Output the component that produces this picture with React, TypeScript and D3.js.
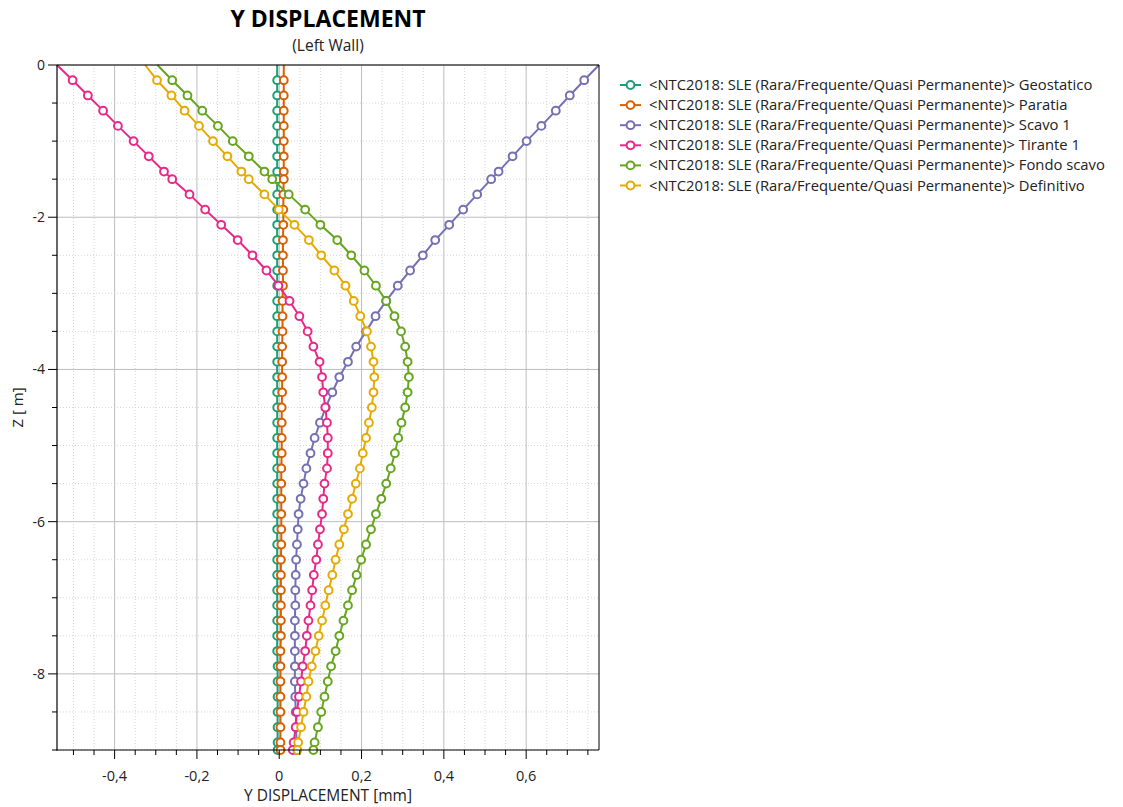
import React from 'react';
import * as d3 from 'd3';

// Depth nodes [m]
const Z = [0, -0.2, -0.4, -0.6, -0.8, -1.0, -1.2, -1.4, -1.5, -1.7, -1.9, -2.1, -2.3, -2.5, -2.7, -2.9, -3.1, -3.3, -3.5, -3.7, -3.9, -4.1, -4.3, -4.5, -4.7, -4.9, -5.1, -5.3, -5.5, -5.7, -5.9, -6.1, -6.3, -6.5, -6.7, -6.9, -7.1, -7.3, -7.5, -7.7, -7.9, -8.1, -8.3, -8.5, -8.7, -8.9, -9.0];

const geostatico = [-0.005, -0.005, -0.005, -0.005, -0.005, -0.005, -0.005, -0.005, -0.005, -0.005, -0.005, -0.005, -0.005, -0.005, -0.005, -0.005, -0.005, -0.005, -0.005, -0.005, -0.005, -0.005, -0.005, -0.005, -0.005, -0.005, -0.005, -0.005, -0.005, -0.005, -0.005, -0.005, -0.005, -0.005, -0.005, -0.005, -0.005, -0.005, -0.005, -0.005, -0.004, -0.004, -0.004, -0.004, -0.004, -0.004, -0.004];
const paratia = [0.011, 0.011, 0.011, 0.011, 0.011, 0.011, 0.011, 0.011, 0.011, 0.010, 0.010, 0.010, 0.009, 0.009, 0.009, 0.009, 0.008, 0.008, 0.008, 0.007, 0.007, 0.007, 0.007, 0.006, 0.006, 0.006, 0.006, 0.005, 0.005, 0.005, 0.005, 0.005, 0.005, 0.004, 0.004, 0.004, 0.004, 0.004, 0.004, 0.003, 0.003, 0.003, 0.003, 0.003, 0.003, 0.003, 0.003];
const scavo1 = [0.777, 0.741, 0.706, 0.672, 0.637, 0.601, 0.567, 0.533, 0.515, 0.481, 0.447, 0.413, 0.379, 0.349, 0.318, 0.288, 0.260, 0.234, 0.211, 0.187, 0.167, 0.146, 0.129, 0.113, 0.099, 0.086, 0.076, 0.066, 0.059, 0.052, 0.047, 0.045, 0.043, 0.041, 0.040, 0.039, 0.039, 0.038, 0.038, 0.038, 0.038, 0.038, 0.039, 0.040, 0.041, 0.042, 0.043];
const tirante1 = [-0.540, -0.502, -0.465, -0.428, -0.392, -0.354, -0.317, -0.280, -0.260, -0.218, -0.180, -0.141, -0.101, -0.065, -0.031, -0.002, 0.025, 0.049, 0.069, 0.083, 0.098, 0.104, 0.107, 0.112, 0.116, 0.118, 0.118, 0.116, 0.110, 0.107, 0.104, 0.099, 0.094, 0.090, 0.084, 0.080, 0.076, 0.071, 0.067, 0.063, 0.057, 0.053, 0.048, 0.043, 0.040, 0.035, 0.033];
const fondoScavo = [-0.296, -0.260, -0.223, -0.187, -0.149, -0.113, -0.074, -0.036, -0.017, 0.023, 0.063, 0.100, 0.141, 0.175, 0.207, 0.235, 0.260, 0.280, 0.296, 0.306, 0.312, 0.315, 0.312, 0.306, 0.297, 0.289, 0.281, 0.271, 0.260, 0.248, 0.235, 0.223, 0.211, 0.199, 0.188, 0.177, 0.167, 0.156, 0.146, 0.137, 0.126, 0.118, 0.110, 0.102, 0.094, 0.086, 0.083];
const definitivo = [-0.326, -0.297, -0.262, -0.230, -0.195, -0.161, -0.126, -0.092, -0.074, -0.036, -0.001, 0.037, 0.072, 0.102, 0.134, 0.161, 0.181, 0.197, 0.213, 0.223, 0.229, 0.231, 0.229, 0.225, 0.218, 0.211, 0.203, 0.196, 0.186, 0.177, 0.167, 0.157, 0.146, 0.137, 0.129, 0.120, 0.112, 0.104, 0.096, 0.088, 0.079, 0.071, 0.066, 0.059, 0.053, 0.046, 0.044];

const seriesNames = [
  '<NTC2018: SLE (Rara/Frequente/Quasi Permanente)> Geostatico',
  '<NTC2018: SLE (Rara/Frequente/Quasi Permanente)> Paratia',
  '<NTC2018: SLE (Rara/Frequente/Quasi Permanente)> Scavo 1',
  '<NTC2018: SLE (Rara/Frequente/Quasi Permanente)> Tirante 1',
  '<NTC2018: SLE (Rara/Frequente/Quasi Permanente)> Fondo scavo',
  '<NTC2018: SLE (Rara/Frequente/Quasi Permanente)> Definitivo',
];
const seriesValues = [geostatico, paratia, scavo1, tirante1, fondoScavo, definitivo];
const seriesColors = ['#1b9e77', '#d95f02', '#7570b3', '#e7298a', '#66a61e', '#e6ab02'];

const xMajorTicks = [-0.4, -0.2, 0, 0.2, 0.4, 0.6];
const xTickLabels = ['-0,4', '-0,2', '0', '0,2', '0,4', '0,6'];
const xMinorTicks = [-0.5, -0.45, -0.35, -0.3, -0.25, -0.15, -0.1, -0.05, 0.05, 0.1, 0.15, 0.25, 0.3, 0.35, 0.45, 0.5, 0.55, 0.65, 0.7, 0.75];
const yMajorTicks = [0, -2, -4, -6, -8];
const yTickLabels = ['0', '-2', '-4', '-6', '-8'];
const yMinorTicks = [-0.5, -1, -1.5, -2.5, -3, -3.5, -4.5, -5, -5.5, -6.5, -7, -7.5, -8.5, -9];

const FONT = '"Open Sans", "DejaVu Sans", sans-serif';

export default function App() {
  const W = 1123, H = 807;
  const L = 57, T = 65, R = 599, B = 750;
  const all = seriesValues.flat();
  const x = d3.scaleLinear().domain(d3.extent(all) as [number, number]).range([L, R]);
  const y = d3.scaleLinear().domain([0, -9]).range([T, B]);
  const line = d3.line<[number, number]>().x(d => x(d[0])).y(d => y(d[1]));

  return (
    <svg width={W} height={H} style={{ position: 'absolute', left: 0, top: 0, background: '#fff' }} fontFamily={FONT}>
      <rect x={0} y={0} width={W} height={H} fill="#fff" />
      {/* minor grid */}
      {xMinorTicks.map((t, i) => (
        <line key={'xm' + i} x1={x(t)} x2={x(t)} y1={T} y2={B} stroke="#d6d6d6" strokeDasharray="1,2" />
      ))}
      {yMinorTicks.map((t, i) => (
        <line key={'ym' + i} x1={L} x2={R} y1={y(t)} y2={y(t)} stroke="#d6d6d6" strokeDasharray="1,2" />
      ))}
      {/* major grid */}
      {xMajorTicks.map((t, i) => (
        <line key={'xM' + i} x1={x(t)} x2={x(t)} y1={T} y2={B} stroke="#bdbdbd" />
      ))}
      {yMajorTicks.map((t, i) => (
        <line key={'yM' + i} x1={L} x2={R} y1={y(t)} y2={y(t)} stroke="#bdbdbd" />
      ))}
      {/* series */}
      {seriesValues.map((vals, si) => {
        const pts = vals.map((v, i) => [v, Z[i]] as [number, number]);
        return (
          <g key={'s' + si}>
            <path d={line(pts) || ''} fill="none" stroke={seriesColors[si]} strokeWidth={2} />
            {pts.slice(1).map((p, i) => (
              <circle key={i} cx={x(p[0])} cy={y(p[1])} r={3.9} fill="#fff" stroke={seriesColors[si]} strokeWidth={2} />
            ))}
          </g>
        );
      })}
      {/* frame */}
      <line x1={L} x2={R} y1={T} y2={T} stroke="#000" />
      <line x1={R} x2={R} y1={T} y2={B} stroke="#000" />
      <line x1={L} x2={L} y1={T} y2={B + 0.5} stroke="#000" strokeWidth={1.2} />
      <line x1={L - 0.5} x2={R} y1={B} y2={B} stroke="#000" strokeWidth={1.2} />
      {/* x ticks */}
      {xMajorTicks.map((t, i) => (
        <g key={'xt' + i}>
          <line x1={x(t)} x2={x(t)} y1={B} y2={B + 9} stroke="#000" />
          <text x={x(t)} y={781} textAnchor="middle" fontSize={14.5} fill="#222">{xTickLabels[i]}</text>
        </g>
      ))}
      {xMinorTicks.map((t, i) => (
        <line key={'xmt' + i} x1={x(t)} x2={x(t)} y1={B} y2={B + 5} stroke="#000" />
      ))}
      {/* y ticks */}
      {yMajorTicks.map((t, i) => (
        <g key={'yt' + i}>
          <line x1={L - 9} x2={L} y1={y(t)} y2={y(t)} stroke="#000" />
          <text x={45} y={y(t) + 5} textAnchor="end" fontSize={14} fill="#222">{yTickLabels[i]}</text>
        </g>
      ))}
      {yMinorTicks.map((t, i) => (
        <line key={'ymt' + i} x1={L - 5} x2={L} y1={y(t)} y2={y(t)} stroke="#000" />
      ))}
      {/* titles */}
      <text x={(L + R) / 2} y={26.5} textAnchor="middle" fontSize={23} fontWeight="bold" fill="#000">Y DISPLACEMENT</text>
      <text x={(L + R) / 2} y={51} textAnchor="middle" fontSize={15.5} fill="#222">(Left Wall)</text>
      <text x={(L + R) / 2} y={801} textAnchor="middle" fontSize={15.5} fill="#222">Y DISPLACEMENT [mm]</text>
      <text transform={`translate(23,${(T + B) / 2}) rotate(-90)`} textAnchor="middle" fontSize={15} fill="#222">Z [ m]</text>
      {/* legend */}
      {seriesNames.map((name, i) => {
        const ly = 85 + i * 20.1;
        return (
          <g key={'lg' + i}>
            <line x1={620} x2={641} y1={ly} y2={ly} stroke={seriesColors[i]} strokeWidth={2} />
            <circle cx={630.5} cy={ly} r={3.9} fill="#fff" stroke={seriesColors[i]} strokeWidth={2} />
            <text x={649} y={ly + 5} fontSize={14.8} fill="#222">{name}</text>
          </g>
        );
      })}
    </svg>
  );
}
